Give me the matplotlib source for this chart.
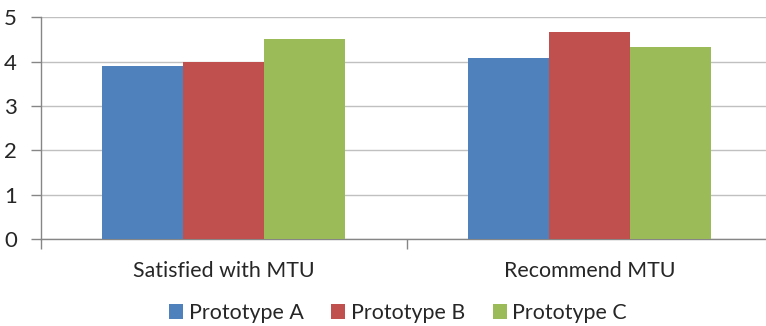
import numpy as np
import matplotlib.pyplot as plt
from matplotlib.patches import Patch

categories = ["Satisfied with MTU", "Recommend MTU"]
series = ["Prototype A", "Prototype B", "Prototype C"]
proto_a = [3.9, 4.09]
proto_b = [4.0, 4.67]
proto_c = [4.5, 4.32]
colors = ["#4F81BD", "#C0504D", "#9BBB59"]

plt.rcParams['font.family'] = ['Lato', 'DejaVu Sans']

fig = plt.figure(figsize=(7.66, 3.26), dpi=100)
W, H = 766, 326
left, right = 40.7, 766
top, bottom = 17.3, 239
ax = fig.add_axes([left / W, 1 - bottom / H, (right - left) / W, (bottom - top) / H])

x = np.arange(len(categories))
bw = 0.221
for i, (vals, c) in enumerate(zip([proto_a, proto_b, proto_c], colors)):
    ax.bar(x + (i - 1) * bw, vals, width=bw, color=c, linewidth=0, zorder=3)

cat_w = 366.0
ax.set_xlim(-0.5, -0.5 + (right - left) / cat_w)
ax.set_ylim(0, 5)
ax.set_yticks(range(6))
ax.tick_params(axis='y', length=7, width=1, color='#868686', labelsize=16, pad=10, labelcolor='#262626')
ax.yaxis.grid(True, color='#c0c0c0', linewidth=1, zorder=0)
ax.set_axisbelow(True)

# category ticks sit on the boundaries, labels in the middle
ax.set_xticks([-0.5, 0.5], minor=False)
ax.set_xticklabels([])
ax.tick_params(axis='x', length=7, width=1, color='#868686')
ax.set_xticks(x, minor=True)
ax.set_xticklabels(categories, minor=True)
ax.tick_params(axis='x', which='minor', length=0, labelsize=15.4, pad=16, labelcolor='#262626')

for s in ['top', 'right']:
    ax.spines[s].set_visible(False)
for s in ['left', 'bottom']:
    ax.spines[s].set_color('#868686')
    ax.spines[s].set_linewidth(1)

handles = [Patch(facecolor=c, label=s) for s, c in zip(series, colors)]
fig.legend(handles=handles, loc='center', bbox_to_anchor=(398 / W, 1 - 313 / H), ncol=3,
           frameon=False, fontsize=15.4, handlelength=0.65, handleheight=0.65,
           handletextpad=0.25, columnspacing=1.3, labelcolor='#262626')

fig.savefig("out.png", dpi=100)
